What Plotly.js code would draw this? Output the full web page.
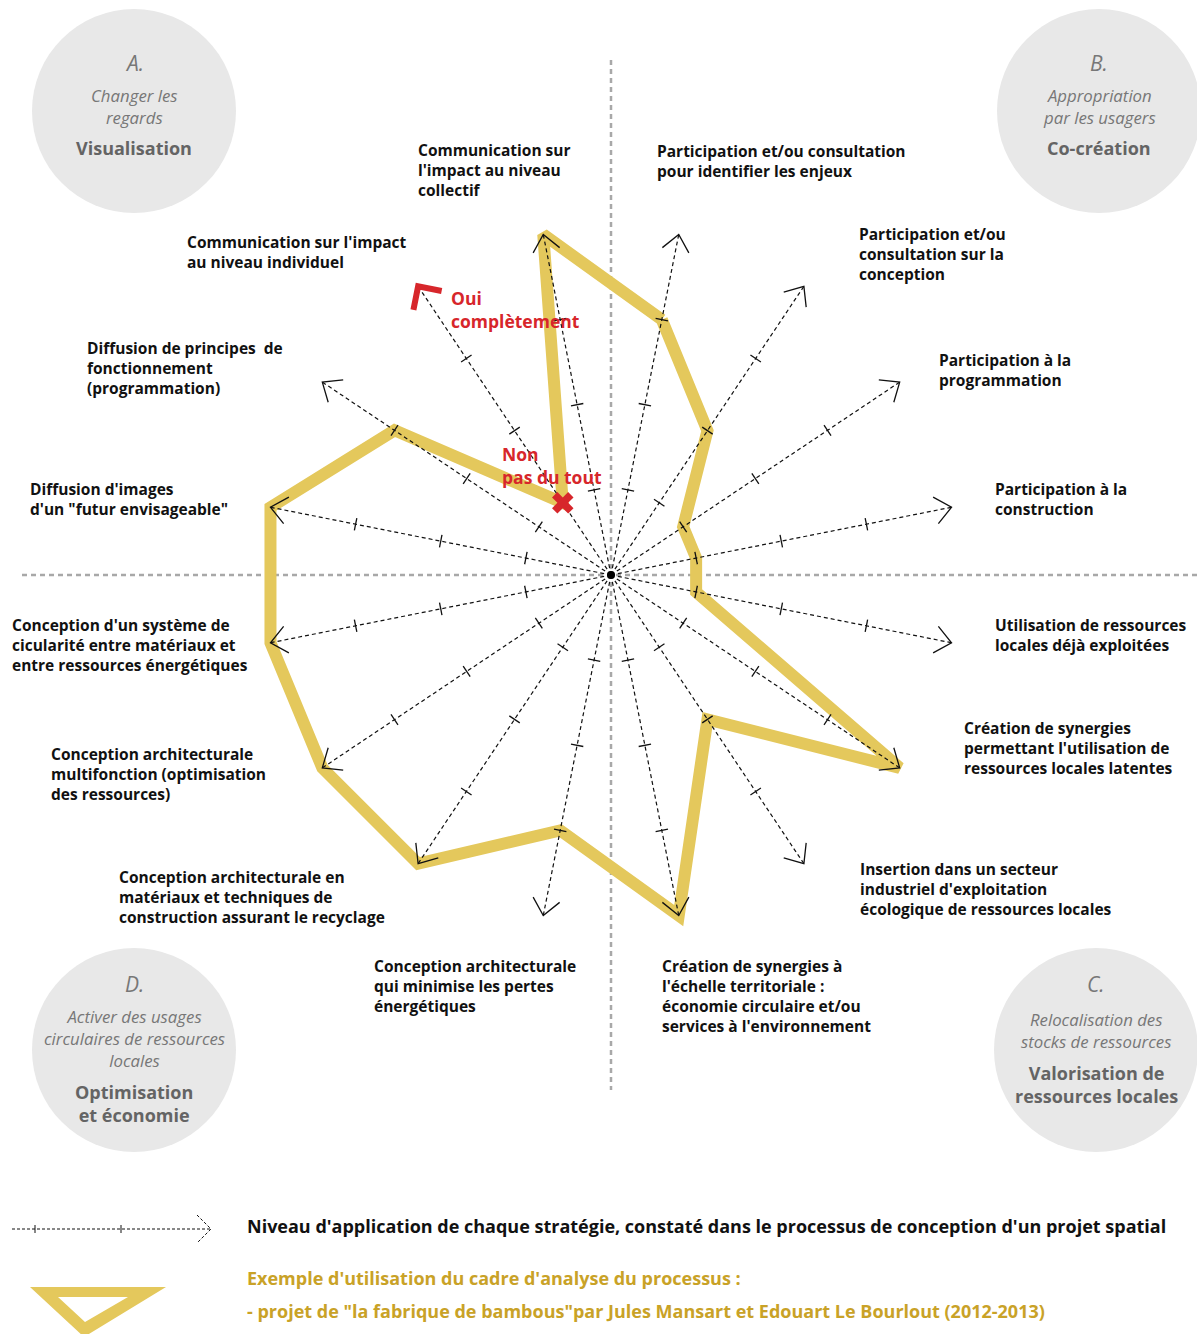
<!DOCTYPE html>
<html>
<head>
<meta charset="utf-8">
<script src="https://cdn.plot.ly/plotly-3.0.1.min.js"></script>
<style>
  body { margin: 0; background: #fff; }
  #graph { width: 1197px; height: 1334px; }
</style>
</head>
<body>
<div id="graph"></div>
<script>
// the 16 strategies, clockwise from the top
var strategies = [
    'Participation et/ou consultation<br>pour identifier les enjeux',
    'Participation et/ou<br>consultation sur la<br>conception',
    'Participation à la<br>programmation',
    'Participation à la<br>construction',
    'Utilisation de ressources<br>locales déjà exploitées',
    'Création de synergies<br>permettant l\'utilisation de<br>ressources locales latentes',
    'Insertion dans un secteur<br>industriel d\'exploitation<br>écologique de ressources locales',
    'Création de synergies à<br>l\'échelle territoriale :<br>économie circulaire et/ou<br>services à l\'environnement',
    'Conception architecturale<br>qui minimise les pertes<br>énergétiques',
    'Conception architecturale en<br>matériaux et techniques de<br>construction assurant le recyclage',
    'Conception architecturale<br>multifonction (optimisation<br>des ressources)',
    'Conception d\'un système de<br>cicularité entre matériaux et<br>entre ressources énergétiques',
    'Diffusion d\'images<br>d\'un "futur envisageable"',
    'Diffusion de principes  de<br>fonctionnement<br>(programmation)',
    'Communication sur l\'impact<br>au niveau individuel',
    'Communication sur<br>l\'impact au niveau<br>collectif'
];

// level reached by "la fabrique de bambous" on each strategy (1 = non, 4 = oui)
var levels = [3, 2, 1, 1, 1, 4, 2, 4, 3, 4, 4, 4, 4, 3, 1, 4];
var levelMax = 4;
var tickLevels = [1, 2, 3];
var scaleLabels = ['Non<br>pas du tout', 'Oui<br>complètement'];

var groupLetters = ['A.', 'B.', 'C.', 'D.'];
var groupSubtitles = ['Changer les<br>regards', 'Appropriation<br>par les usagers',
    'Relocalisation des<br>stocks de ressources', 'Activer des usages<br>circulaires de ressources<br>locales'];
var groupNames = ['Visualisation', 'Co-création', 'Valorisation de<br>ressources locales', 'Optimisation<br>et économie'];

var legendTexts = [
    'Niveau d\'application de chaque stratégie, constaté dans le processus de conception d\'un projet spatial',
    'Exemple d\'utilisation du cadre d\'analyse du processus :',
    '- projet de "la fabrique de bambous"par Jules Mansart et Edouart Le Bourlout (2012-2013)'
];

// page geometry (pixels)
var W = 1197, H = 1334;
var CX = 611, CY = 575, U = 86.8;   // centre and pixels per level
var scaleAxis = 14;                 // axis that carries the red scale explanation

// label boxes: left x, centre of first line (pixels)
var labelPos = [[655, 149], [857, 232], [937, 358], [993, 487], [993, 623], [962, 726],
    [858, 867], [660, 964], [372, 964], [117, 875], [49, 752], [10, 623], [28, 487],
    [85, 346], [185, 240], [416, 148]];
// circles: centre x, centre y, letter y, subtitle y, name y
var circlePos = [[134, 111, 63, 106, 148], [1099, 111, 63, 106, 148],
    [1096, 1050, 984, 1030, 1084], [134, 1050, 984, 1038, 1103]];

var YELLOW = '#E4C85C', GOLD = '#C9A227', RED = '#D7262B';
var FONT = '"Open Sans", Lato, sans-serif';

function dx(p) { return (p - CX) / U; }
function dy(p) { return (CY - p) / U; }
function dirOf(i) { return (11.25 + 22.5 * i) * Math.PI / 180; }
function pt(r, a) { return [r * Math.sin(a), r * Math.cos(a)]; }
function pathOf(pts) {
    return pts.map(function (p, k) { return (k ? 'L' : 'M') + dx(p[0]) + ',' + dy(p[1]); }).join('') + 'Z';
}

function drawGraph() {
    var polyX = [], polyY = [];
    levels.forEach(function (v, i) {
        var p = pt(v, dirOf(i));
        polyX.push(p[0]);
        polyY.push(p[1]);
    });
    polyX.push(polyX[0]);
    polyY.push(polyY[0]);

    var axX = [], axY = [], headX = [], headY = [], tickX = [], tickY = [], tickAng = [];
    var redX = [], redY = [];
    var legLen = 21 / U, legAng = 40 * Math.PI / 180;

    strategies.forEach(function (s, i) {
        var a = dirOf(i);
        var tip = pt(levelMax, a);
        axX.push(0, tip[0], null);
        axY.push(0, tip[1], null);
        tickLevels.forEach(function (t) {
            var p = pt(t, a);
            tickX.push(p[0]);
            tickY.push(p[1]);
            tickAng.push(a * 180 / Math.PI);
        });
        if (i === scaleAxis) {
            var r1 = pt(24 / U, a + Math.PI + Math.PI / 4), r2 = pt(24 / U, a + Math.PI - Math.PI / 4);
            redX.push(tip[0] + r1[0], tip[0], tip[0] + r2[0]);
            redY.push(tip[1] + r1[1], tip[1], tip[1] + r2[1]);
        } else {
            var l1 = pt(legLen, a + Math.PI + legAng), l2 = pt(legLen, a + Math.PI - legAng);
            headX.push(tip[0] + l1[0], tip[0], tip[0] + l2[0], null);
            headY.push(tip[1] + l1[1], tip[1], tip[1] + l2[1], null);
        }
    });

    var low = pt(tickLevels[0], dirOf(scaleAxis));

    var data = [
        {x: polyX, y: polyY, mode: 'lines', line: {color: YELLOW, width: 12}, hoverinfo: 'skip'},
        {x: axX, y: axY, mode: 'lines', line: {color: '#111', width: 1.2, dash: '4px,3px'}, hoverinfo: 'skip'},
        {x: headX, y: headY, mode: 'lines', line: {color: '#111', width: 1.3}, hoverinfo: 'skip'},
        {x: tickX, y: tickY, mode: 'markers', hoverinfo: 'skip',
            marker: {symbol: 'line-ew', size: 9, angle: tickAng, line: {color: '#111', width: 1.3}}},
        {x: [0], y: [0], mode: 'markers', marker: {color: '#000', size: 8}, hoverinfo: 'skip'},
        {x: redX, y: redY, mode: 'lines', line: {color: RED, width: 6}, hoverinfo: 'skip'},
        {x: [low[0]], y: [low[1]], mode: 'markers', hoverinfo: 'skip',
            marker: {symbol: 'x', size: 19, color: RED, line: {width: 0}}}
    ];

    var shapes = [
        {type: 'line', layer: 'below', x0: 0, x1: 0, y0: dy(60), y1: dy(1090),
            line: {color: '#A8A8A8', width: 2.5, dash: '5px,4px'}},
        {type: 'line', layer: 'below', x0: dx(22), x1: dx(W), y0: 0, y1: 0,
            line: {color: '#A8A8A8', width: 2.5, dash: '5px,4px'}},
        // legend: dashed arrow with ticks
        {type: 'line', x0: dx(12), x1: dx(210), y0: dy(1229), y1: dy(1229), line: {color: '#111', width: 1, dash: '3px,2px'}},
        {type: 'line', x0: dx(35), x1: dx(35), y0: dy(1225), y1: dy(1233), line: {color: '#111', width: 1}},
        {type: 'line', x0: dx(121), x1: dx(121), y0: dy(1225), y1: dy(1233), line: {color: '#111', width: 1}},
        {type: 'path', path: 'M' + dx(197) + ',' + dy(1215) + 'L' + dx(211) + ',' + dy(1229) + 'L' + dx(197) + ',' + dy(1243),
            line: {color: '#111', width: 1, dash: '3px,2px'}},
        // legend: yellow triangle outline
        {type: 'path', fillrule: 'evenodd', fillcolor: YELLOW, line: {width: 0},
            path: pathOf([[30, 1287], [166, 1287], [84, 1337]]) + pathOf([[58, 1297], [128, 1297], [85, 1322]])}
    ];

    var annotations = [];
    strategies.forEach(function (s, i) {
        annotations.push({x: dx(labelPos[i][0]), y: dy(labelPos[i][1] - 11.5), text: s, showarrow: false,
            xanchor: 'left', yanchor: 'top', align: 'left',
            font: {family: FONT, size: 15.5, color: '#111', weight: 'bold'}});
    });

    circlePos.forEach(function (c, i) {
        shapes.push({type: 'circle', layer: 'below', x0: dx(c[0] - 102), x1: dx(c[0] + 102),
            y0: dy(c[1] - 102), y1: dy(c[1] + 102), fillcolor: '#E8E8E8', line: {width: 0}});
        annotations.push({x: dx(c[0]), y: dy(c[2]), text: '<i>' + groupLetters[i] + '</i>', showarrow: false,
            xanchor: 'center', yanchor: 'middle', font: {family: FONT, size: 21, color: '#777'}});
        annotations.push({x: dx(c[0]), y: dy(c[3]), text: '<i>' + groupSubtitles[i] + '</i>', showarrow: false,
            xanchor: 'center', yanchor: 'middle', align: 'center', font: {family: FONT, size: 16.8, color: '#777'}});
        annotations.push({x: dx(c[0]), y: dy(c[4]), text: groupNames[i], showarrow: false,
            xanchor: 'center', yanchor: 'middle', align: 'center',
            font: {family: FONT, size: 18, color: '#646464', weight: 'bold'}});
    });

    annotations.push({x: dx(500), y: dy(465), text: scaleLabels[0], showarrow: false, xanchor: 'left', yanchor: 'middle',
        align: 'left', font: {family: FONT, size: 17.5, color: RED, weight: 'bold'}});
    annotations.push({x: dx(449), y: dy(309), text: scaleLabels[1], showarrow: false, xanchor: 'left', yanchor: 'middle',
        align: 'left', font: {family: FONT, size: 17.5, color: RED, weight: 'bold'}});

    annotations.push({x: dx(245), y: dy(1226), text: legendTexts[0], showarrow: false, xanchor: 'left', yanchor: 'middle',
        font: {family: FONT, size: 18, color: '#111', weight: 'bold'}});
    annotations.push({x: dx(245), y: dy(1278), text: legendTexts[1], showarrow: false, xanchor: 'left', yanchor: 'middle',
        font: {family: FONT, size: 18, color: GOLD, weight: 'bold'}});
    annotations.push({x: dx(245), y: dy(1311), text: legendTexts[2], showarrow: false, xanchor: 'left', yanchor: 'middle',
        font: {family: FONT, size: 18, color: GOLD, weight: 'bold'}});

    var layout = {
        width: W, height: H,
        margin: {l: 0, r: 0, t: 0, b: 0},
        showlegend: false,
        paper_bgcolor: '#fff', plot_bgcolor: '#fff',
        xaxis: {range: [dx(0), dx(W)], visible: false, fixedrange: true},
        yaxis: {range: [dy(H), dy(0)], visible: false, fixedrange: true},
        shapes: shapes,
        annotations: annotations
    };

    Plotly.newPlot('graph', data, layout, {displayModeBar: false, staticPlot: true});
}

drawGraph();
</script>
</body>
</html>
